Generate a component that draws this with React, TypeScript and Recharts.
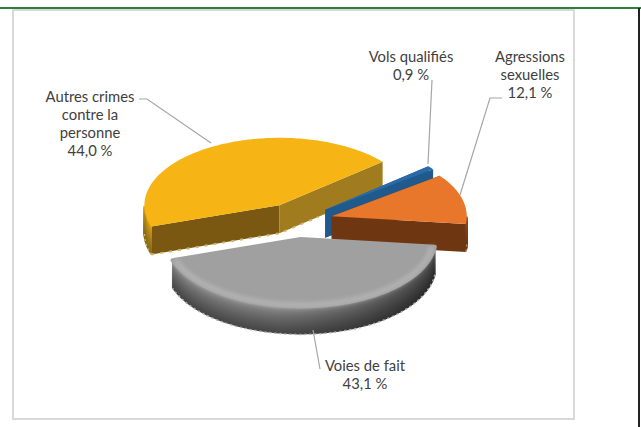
import { Pie, PieChart } from "recharts";

const categories = ["Autres crimes contre la personne", "Vols qualifiés", "Agressions sexuelles", "Voies de fait"];
const shares = [44.0, 0.9, 12.1, 43.1];
const valueLabels = ["44,0 %", "0,9 %", "12,1 %", "43,1 %"];
const labelLines = [
  ["Autres crimes", "contre la", "personne", "44,0 %"],
  ["Vols qualifiés", "0,9 %"],
  ["Agressions", "sexuelles", "12,1 %"],
  ["Voies de fait", "43,1 %"],
];

const topColors = ["#f6b515", "#2a6aa6", "#e8772b", "#a0a0a0"];
const hiWalls = ["#7b5812", "#2a6aa6", "#6f3612", "#777777"];
const loWalls = ["#a07c1e", "#20598c", "#6f3612", "#777777"];
const rimFrom = ["#eeb114", "#2a6aa6", "#9a5020", "#a6a6a6"];
const rimTo = ["#8a6c1c", "#20598c", "#6f3612", "#484848"];
const edgeDots = ["#cdb76c", "#2a6aa6", "#b98a66", "#b0b0b0"];

// label text anchor + leader line, chart pixels
const labelLayout = [
  { x: 90, y: 102, leader: "139,99 147,99 211,143" },
  { x: 411, y: 62, leader: "432,80 428,164" },
  { x: 530, y: 62, leader: "502,98 490,98 460,195" },
  { x: 365, y: 371, leader: "313,330 320,369" },
];

const data = categories.map((name, i) => ({ name, value: shares[i], label: valueLabels[i], index: i }));

const TILT = 0.5; // ellipse height / width
const DEPTH = 28;
const EXPLODE = 36;

function lerpColor(a: string, b: string, t: number) {
  const ch = (s: string, k: number) => parseInt(s.slice(1 + k * 2, 3 + k * 2), 16);
  const out = [0, 1, 2].map((k) => Math.round(ch(a, k) + (ch(b, k) - ch(a, k)) * t));
  return `rgb(${out.join(",")})`;
}

function SliceShape(props: any) {
  const { cx, cy, outerRadius, startAngle, endAngle, payload } = props;
  const i = payload.index;
  const hi = Math.max(startAngle, endAngle);
  const lo = Math.min(startAngle, endAngle);
  const mid = ((hi + lo) / 2) * (Math.PI / 180);
  const ax = cx + EXPLODE * Math.cos(mid);
  const ay = cy - EXPLODE * TILT * Math.sin(mid);
  const rx = outerRadius;
  const ry = outerRadius * TILT;

  const pt = (deg: number, scale = 1, drop = 0): [number, number] => [
    ax + rx * scale * Math.cos((deg * Math.PI) / 180),
    ay - ry * scale * Math.sin((deg * Math.PI) / 180) + drop,
  ];
  const angles: number[] = [];
  for (let a = hi; a > lo; a -= 1) angles.push(a);
  angles.push(lo);
  const rimAngles = angles.filter((a) => Math.sin((a * Math.PI) / 180) <= 0);

  const line = (pts: [number, number][]) => pts.map((p) => `${p[0].toFixed(1)},${p[1].toFixed(1)}`).join(" ");
  const wall = (deg: number) => line([[ax, ay], pt(deg), pt(deg, 1, DEPTH), [ax, ay + DEPTH]]);
  const topFace = line([[ax, ay], ...angles.map((a) => pt(a))]);
  const strips = Array.from({ length: DEPTH }, (_, k) => k);
  const isGrey = i === 3;
  const rimBand = line([...rimAngles.map((a) => pt(a, 1, 0)), ...[...rimAngles].reverse().map((a) => pt(a, 1, DEPTH))]);

  return (
    <g style={{ filter: "blur(0.6px)" }}>
      <polygon points={wall(hi)} fill={hiWalls[i]} />
      <polygon points={wall(lo)} fill={loWalls[i]} />
      {rimAngles.length > 1 &&
        strips.map((k) => (
          <polyline
            key={k}
            points={line(rimAngles.map((a) => pt(a, 1, k)))}
            fill="none"
            stroke={lerpColor(rimFrom[i], rimTo[i], Math.pow(k / (DEPTH - 1), 0.6))}
            strokeWidth={2}
          />
        ))}
      {isGrey && (
        <>
          <defs>
            <linearGradient id="greyRimShade" x1="0" y1="0" x2="1" y2="0">
              <stop offset="0.4" stopColor="#000" stopOpacity={0} />
              <stop offset="1" stopColor="#000" stopOpacity={0.4} />
            </linearGradient>
          </defs>
          <polygon points={rimBand} fill="url(#greyRimShade)" />
        </>
      )}
      {i === 0 && (
        <polyline
          points={line([pt(hi, 1, DEPTH), [ax, ay + DEPTH], pt(lo, 0.38, DEPTH)])}
          fill="none"
          stroke={edgeDots[i]}
          strokeWidth={2}
          strokeDasharray="3 6"
        />
      )}
      {rimAngles.length > 1 && (
        <polyline
          points={line(rimAngles.map((a) => pt(a, 1, DEPTH)))}
          fill="none"
          stroke={edgeDots[i]}
          strokeWidth={1.5}
          strokeDasharray="2 3"
        />
      )}
      <polygon
        points={topFace}
        fill={topColors[i]}
        stroke={isGrey ? topColors[i] : "none"}
        strokeWidth={isGrey ? 4 : 0}
        strokeLinejoin="round"
      />
      {isGrey && (
        <polyline
          points={line(rimAngles.map((a) => pt(a, 0.98)))}
          fill="none"
          stroke="#b4b4b4"
          strokeWidth={5}
          style={{ filter: "blur(2px)" }}
        />
      )}
    </g>
  );
}

function SliceLabel(props: any) {
  const i = props.index;
  const { x, y, leader } = labelLayout[i];
  return (
    <g>
      <polyline points={leader} fill="none" stroke="#a6a6a6" strokeWidth={1.2} />
      <text x={x} y={y} textAnchor="middle" fontFamily="Lato" fontSize={14.8} fill="#404040">
        {labelLines[i].map((t, k) => (
          <tspan key={k} x={x} dy={k === 0 ? 0 : 18}>
            {t}
          </tspan>
        ))}
      </text>
    </g>
  );
}

export default function App() {
  return (
    <div style={{ position: "absolute", left: 0, top: 0, width: 641, height: 427, background: "#fff", overflow: "hidden" }}>
      <div style={{ position: "absolute", left: 0, top: 7, width: 641, height: 2, background: "#317f3d" }} />
      <div style={{ position: "absolute", left: 638, top: 8, width: 2, height: 419, background: "#222" }} />
      <div
        style={{
          position: "absolute",
          left: 12,
          top: 9,
          width: 559,
          height: 407,
          border: "2px solid #d9d9d9",
        }}
      />
      <div style={{ position: "absolute", left: 0, top: 0 }}>
        <PieChart width={641} height={427} margin={{ top: 0, right: 0, bottom: 0, left: 0 }}>
          <Pie
            data={data}
            dataKey="value"
            nameKey="name"
            cx={297}
            cy={221}
            innerRadius={0}
            outerRadius={135}
            startAngle={198.4}
            endAngle={-161.6}
            stroke="none"
            isAnimationActive={false}
            shape={SliceShape}
            label={SliceLabel}
            labelLine={false}
          />
        </PieChart>
      </div>
    </div>
  );
}
